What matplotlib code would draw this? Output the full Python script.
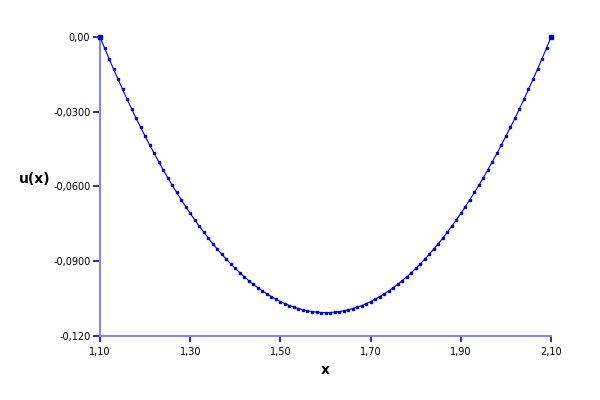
'''
u(x) solution curve on [1.1, 2.1]
'''

import numpy as np
import matplotlib
matplotlib.use("Agg")
import matplotlib.pyplot as plt

# x values, step 0.01
x_vals = [round(1.10 + 0.01 * i, 2) for i in range(101)]

# u(x) (left half, middle, right half mirrors it)
u_vals = [
    0.0000, -0.0044, -0.0087, -0.0129, -0.0170, -0.0210, -0.0250, -0.0288,
    -0.0326, -0.0362, -0.0398, -0.0433, -0.0467, -0.0500, -0.0533, -0.0564,
    -0.0595, -0.0624, -0.0653, -0.0681, -0.0708, -0.0734, -0.0759, -0.0783,
    -0.0807, -0.0830, -0.0851, -0.0872, -0.0892, -0.0911, -0.0929, -0.0946,
    -0.0963, -0.0978, -0.0993, -0.1006, -0.1019, -0.1031, -0.1042, -0.1052,
    -0.1062, -0.1070, -0.1078, -0.1084, -0.1090, -0.1095, -0.1099, -0.1102,
    -0.1104, -0.1106, -0.1106,
    -0.1106, -0.1104, -0.1102, -0.1099, -0.1095, -0.1090, -0.1084, -0.1078,
    -0.1070, -0.1062, -0.1052, -0.1042, -0.1031, -0.1019, -0.1006, -0.0993,
    -0.0978, -0.0963, -0.0946, -0.0929, -0.0911, -0.0892, -0.0872, -0.0851,
    -0.0830, -0.0807, -0.0783, -0.0759, -0.0734, -0.0708, -0.0681, -0.0653,
    -0.0624, -0.0595, -0.0564, -0.0533, -0.0500, -0.0467, -0.0433, -0.0398,
    -0.0362, -0.0326, -0.0288, -0.0250, -0.0210, -0.0170, -0.0129, -0.0087,
    -0.0044, 0.0000,
]

x_ticks = [1.10, 1.30, 1.50, 1.70, 1.90, 2.10]
x_labels = ["1,10", "1,30", "1,50", "1,70", "1,90", "2,10"]
y_ticks = [0.0, -0.03, -0.06, -0.09, -0.12]
y_labels = ["0,00", "-0,0300", "-0,0600", "-0,0900", "-0,120"]

line_col = "#0000d0"
axis_col = "#8888e0"

fig = plt.figure(figsize=(6, 4), dpi=100)
ax = fig.add_axes([0.1667, 0.16, 0.7517, 0.7475])

ax.plot(x_vals, u_vals, color=line_col, lw=0.8, marker="s", ms=1.8,
        mec=line_col, mfc=line_col, clip_on=False, zorder=3)
# bigger end markers
ax.plot([x_vals[0], x_vals[-1]], [u_vals[0], u_vals[-1]], ls="none",
        marker="s", ms=3, color=line_col, clip_on=False, zorder=4)

ax.set_xlim(1.10, 2.10)
ax.set_ylim(-0.12, 0.0)

ax.set_xticks(x_ticks)
ax.set_xticklabels(x_labels)
ax.set_yticks(y_ticks)
ax.set_yticklabels(y_labels)

for side in ["top", "right"]:
    ax.spines[side].set_visible(False)
for side in ["left", "bottom"]:
    ax.spines[side].set_color(axis_col)
    ax.spines[side].set_linewidth(1.5)

ax.tick_params(axis="both", direction="out", colors=line_col, labelcolor="black",
               labelsize=7, width=1.2)
ax.tick_params(axis="y", length=5, pad=2)
ax.tick_params(axis="x", length=4, pad=4)

ax.set_xlabel("x", fontsize=10, fontweight="bold", labelpad=4)
ax.set_ylabel("u(x)", fontsize=10, fontweight="bold", rotation=0, labelpad=4)
ax.yaxis.set_label_coords(-0.145, 0.5)

fig.savefig("out.png", dpi=100)
